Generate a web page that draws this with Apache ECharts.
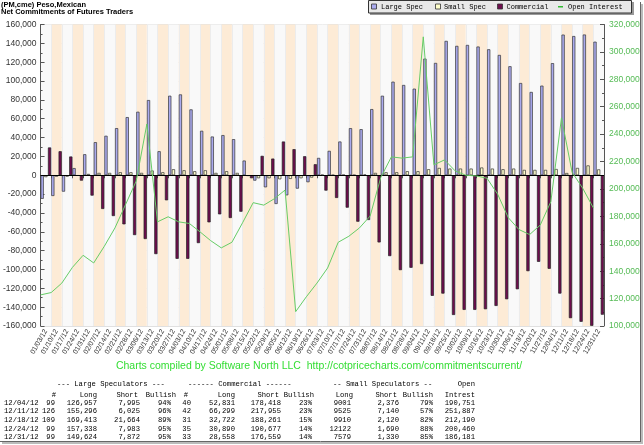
<!DOCTYPE html>
<html><head><meta charset="utf-8">
<script src="https://cdn.jsdelivr.net/npm/echarts@6/dist/echarts.min.js"></script>
<style>html,body{margin:0;padding:0;background:#fff}#c{width:644px;height:445px}</style>
</head><body><div id="c"></div>
<script>
const dates = ['01/03/12','01/10/12','01/17/12','01/24/12','01/31/12','02/07/12','02/14/12','02/21/12','02/28/12','03/06/12','03/13/12','03/20/12','03/27/12','04/03/12','04/10/12','04/17/12','04/24/12','05/01/12','05/08/12','05/15/12','05/22/12','05/29/12','06/05/12','06/12/12','06/19/12','06/26/12','07/03/12','07/10/12','07/17/12','07/24/12','07/31/12','08/07/12','08/14/12','08/21/12','08/28/12','09/04/12','09/11/12','09/18/12','09/25/12','10/02/12','10/09/12','10/16/12','10/23/12','10/30/12','11/06/12','11/13/12','11/20/12','11/27/12','12/04/12','12/11/12','12/18/12','12/24/12','12/31/12'];
const largeSpec = [-25000,-22000,-17400,7600,22300,35100,41900,50000,61700,67400,79800,25500,84400,85800,69900,47200,41100,42600,38300,15600,-5700,-12800,-30500,-21300,-14200,-7400,18400,25900,35800,50000,48900,70200,84400,99300,95800,91900,123800,119200,142600,137300,138300,136600,133700,127700,115700,97900,88400,95100,118962,149271,147749,149355,141752];
const smallSpec = [-2000,-1500,-1500,-500,1400,2500,2500,3200,3200,2500,5000,3200,6400,5300,4300,5300,2500,4300,2500,-700,-3200,-3200,-4300,-3900,-3200,-2500,500,300,500,300,700,2500,3200,3200,4300,4300,6400,7800,7100,7100,7100,8200,7100,6400,7100,5700,5700,5700,6625,2385,7790,10432,6249];
const commercial = [29500,25500,19900,-5700,-21600,-35800,-43300,-52100,-63500,-67700,-83700,-26600,-88700,-88700,-72000,-50000,-41500,-45400,-38700,-3200,20600,17700,35800,27700,20200,11700,-16300,-24100,-34400,-49300,-47500,-71300,-85800,-100700,-98200,-94300,-128000,-125600,-148300,-142900,-142900,-142200,-138700,-131600,-121000,-101800,-91900,-99300,-125587,-151656,-155539,-159787,-148001];
const openInterest = [122700,124400,131300,142800,151600,146000,158200,171600,188700,205800,247400,176000,179700,176000,174800,168700,162300,157000,161100,175300,190000,188200,192900,199200,110500,121300,131300,142300,161100,165500,171600,180200,208300,223400,222500,223400,311000,217600,221200,213200,210000,209500,207800,196100,179000,170400,166700,173600,190751,251887,212190,200460,186181];

const titleLines = ['(PM,cme) Peso,Mexican','Net Commitments of Futures Traders'];
const legendNames = ['Large Spec','Small Spec','Commercial','Open Interest'];
const watermark = 'Charts compiled by Software North LLC  http://cotpricecharts.com/commitmentscurrent/';
const tableHeader1 = ['--- Large Speculators ---','------ Commercial ------','-- Small Speculators --','Open'];
const tableHeader2 = ['#','Long','Short','Bullish','#','Long','Short','Bullish','Long','Short','Bullish','Intrest'];
const tableRows = [
 ['12/04/12','99','126,957','7,995','94%','40','52,831','178,418','23%','9001','2,376','79%','190,751'],
 ['12/11/12','126','155,296','6,025','96%','42','66,299','217,955','23%','9525','7,140','57%','251,887'],
 ['12/18/12','109','169,413','21,664','89%','31','32,722','188,261','15%','9910','2,120','82%','212,190'],
 ['12/24/12','99','157,338','7,983','95%','35','30,890','190,677','14%','12122','1,690','88%','200,460'],
 ['12/31/12','99','149,624','7,872','95%','33','28,558','176,559','14%','7579','1,330','85%','186,181']
];

const colors = {large:'#aaaaee', small:'#ffffcc', comm:'#6e0d4e', oi:'#66cc66'};
const mono = '7px "Liberation Mono", "DejaVu Sans Mono", monospace';
const monoT = '7.2px "Liberation Mono", "DejaVu Sans Mono", monospace';
const g = [];
// title
titleLines.forEach((t,i)=>g.push({type:'text',x:1,y:4.5+i*7.5,style:{text:t,font:'bold 7.5px "Liberation Sans", Arial',fill:'#000',textVerticalAlign:'middle'}}));
// legend box
g.push({type:'rect',shape:{x:370,y:2,width:264,height:13},style:{fill:'#999',stroke:null}});
g.push({type:'rect',shape:{x:368.5,y:0.5,width:263,height:12.5},style:{fill:'#e8e8e8',stroke:'#333',lineWidth:1}});
const legX = [371.5,435.5,497.5];
const legC = [colors.large,colors.small,colors.comm];
const txtX = [381,444,506.5,568];
legX.forEach((x,i)=>g.push({type:'rect',shape:{x:x,y:4,width:5,height:5},style:{fill:legC[i],stroke:'#333',lineWidth:0.8}}));
g.push({type:'rect',shape:{x:558,y:6,width:5,height:1.5},style:{fill:'#33bb33'}});
legendNames.forEach((n,i)=>g.push({type:'text',x:txtX[i],y:7,style:{text:n,font:mono,fill:'#000',textVerticalAlign:'middle'}}));
// watermark
g.push({type:'text',x:319,y:366,style:{text:watermark,font:'10.5px "Liberation Sans", Arial',fill:'#33dd33',textAlign:'center',textVerticalAlign:'middle'}});
// table
const h1 = [[57,'left'],[188,'left'],[333,'left'],[475,'right']];
tableHeader1.forEach((t,i)=>g.push({type:'text',x:h1[i][0],y:384.5,style:{text:t,font:monoT,fill:'#000',textAlign:h1[i][1],textVerticalAlign:'middle'}}));
const h2x = [56,97,138,176,188,235,279,314,353,397,433,475];
tableHeader2.forEach((t,i)=>g.push({type:'text',x:h2x[i],y:395,style:{text:t,font:monoT,fill:'#000',textAlign:'right',textVerticalAlign:'middle'}}));
const colX = [4,55,97,140,171,191,235,281,312,351,399,433,475];
tableRows.forEach((r,ri)=>r.forEach((t,ci)=>g.push({type:'text',x:colX[ci],y:403+ri*8.6,style:{text:t,font:monoT,fill:'#000',textAlign:ci===0?'left':'right',textVerticalAlign:'middle'}})));
// frame shadow
g.push({type:'line',shape:{x1:640.5,y1:2,x2:640.5,y2:441},style:{stroke:'#666',lineWidth:1}});
g.push({type:'line',shape:{x1:0,y1:441.5,x2:641,y2:441.5},style:{stroke:'#666',lineWidth:1}});
g.push({type:'line',shape:{x1:642,y1:4,x2:642,y2:443},style:{stroke:'#bbb',lineWidth:2}});
g.push({type:'line',shape:{x1:2,y1:443,x2:643,y2:443},style:{stroke:'#bbb',lineWidth:2}});

const chart = echarts.init(document.getElementById('c'),null,{renderer:'canvas'});
const barBase = {type:'bar',xAxisIndex:0,yAxisIndex:0,barWidth:3.2,barGap:'15%',animation:false};
chart.setOption({
 animation:false,
 backgroundColor:'#fff',
 grid:{left:36,right:40,top:24.5,bottom:119,containLabel:false},
 xAxis:[
  {type:'category',data:dates,boundaryGap:true,
   axisLine:{lineStyle:{color:'#555'}},
   axisTick:{show:true,length:3,interval:0,lineStyle:{color:'#555'}},
   axisLabel:{interval:0,rotate:60,fontSize:7,fontFamily:'"Liberation Sans", Arial',color:'#333',margin:4},
   splitArea:{show:true,interval:0,areaStyle:{color:['#f9f9f9','#fdebd6']}},
   splitLine:{show:true,interval:0,lineStyle:{color:'#ececec'}}},
  {type:'value',min:0,max:dates.length,show:false}
 ],
 yAxis:[
  {type:'value',min:-160000,max:160000,interval:20000,
   axisLine:{show:true,lineStyle:{color:'#555'}},
   axisTick:{show:true,inside:true,length:4,lineStyle:{color:'#555'}},
   minorTick:{show:true,splitNumber:2,length:2,lineStyle:{color:'#555'}},
   axisLabel:{fontSize:8.5,fontFamily:'"Liberation Sans", Arial',color:'#333',margin:4},
   splitLine:{show:true,lineStyle:{color:'#e0e0e0'}}},
  {type:'value',position:'right',min:100000,max:320000,interval:20000,
   axisLine:{show:true,lineStyle:{color:'#555'}},
   axisTick:{show:true,inside:true,length:4,lineStyle:{color:'#555'}},
   minorTick:{show:true,splitNumber:2,length:2,lineStyle:{color:'#555'}},
   axisLabel:{fontSize:8.5,fontFamily:'"Liberation Sans", Arial',color:'#55bb55',margin:5},
   splitLine:{show:false}}
 ],
 series:[
  Object.assign({},barBase,{name:legendNames[0],data:largeSpec,itemStyle:{color:colors.large,borderColor:'#333',borderWidth:0.7}}),
  Object.assign({},barBase,{name:legendNames[1],data:smallSpec,itemStyle:{color:colors.small,borderColor:'#333',borderWidth:0.7}}),
  Object.assign({},barBase,{name:legendNames[2],data:commercial,itemStyle:{color:colors.comm,borderColor:'#222',borderWidth:0.7},
    markLine:{silent:true,symbol:'none',label:{show:false},lineStyle:{color:'#000',type:'solid',width:1},data:[{yAxis:0}]}}),
  {type:'line',name:legendNames[3],xAxisIndex:1,yAxisIndex:1,data:openInterest.map((v,i)=>[i,v]),symbol:'none',z:5,
   lineStyle:{color:colors.oi,width:1},animation:false}
 ],
 graphic:g
});
</script></body></html>
